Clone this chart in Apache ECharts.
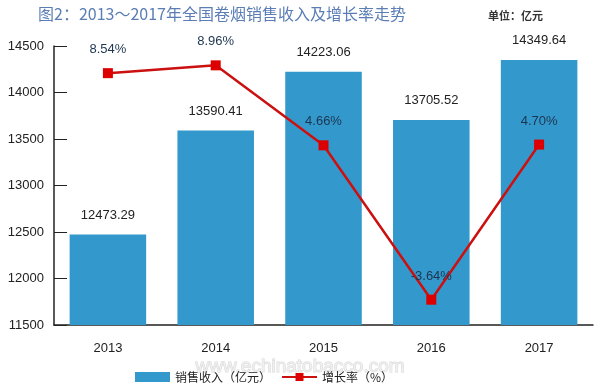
<!DOCTYPE html>
<html><head><meta charset="utf-8">
<script src="https://cdn.jsdelivr.net/npm/echarts@6/dist/echarts.min.js"></script>
<style>html,body{margin:0;padding:0;background:#fff}#c{width:600px;height:388px}</style>
</head><body><div id="c"></div>
<script>
var years = ['2013','2014','2015','2016','2017'];
var revenue = [12473.29, 13590.41, 14223.06, 13705.52, 14349.64];
var growth = [8.54, 8.96, 4.66, -3.64, 4.70];
var yTicks = [11500, 12000, 12500, 13000, 13500, 14000, 14500];

var chart = echarts.init(document.getElementById('c'));
var numFont = 'Liberation Sans, Arial, sans-serif';
var cjkFont = 'Noto Sans CJK SC, sans-serif';
chart.setOption({
  animation: false,
  backgroundColor: '#fff',
  title: [{
    text: '图2：2013～2017年全国卷烟销售收入及增长率走势',
    left: 33, top: 1,
    textStyle: {color: '#5a7db5', fontSize: 16, fontWeight: 'normal', fontFamily: cjkFont}
  }, {
    text: '单位：亿元',
    left: 483, top: 5,
    textStyle: {color: '#333', fontSize: 11, fontWeight: 'bold', fontFamily: cjkFont}
  }],
  graphic: [{
    type: 'text', left: 'center', top: 357,
    style: {text: 'www.echinatobacco.com', fontSize: 19, fontFamily: numFont,
      fill: 'rgba(240,240,240,0.9)', stroke: 'rgba(205,205,205,0.8)', lineWidth: 1}
  }],
  legend: {
    left: 130, top: 366, itemGap: 10,
    itemWidth: 35, itemHeight: 10,
    textStyle: {fontSize: 12, color: '#222', fontFamily: cjkFont},
    data: [{name: '销售收入（亿元）', icon: 'rect'}, {name: '增长率（%）'}]
  },
  grid: {left: 54, right: 7, top: 46, bottom: 63},
  xAxis: {
    type: 'category', data: years,
    axisLine: {onZero: false, lineStyle: {color: '#222', width: 1.5}},
    axisTick: {inside: true, length: 6, lineStyle: {color: '#222'}},
    axisLabel: {color: '#222', fontSize: 13, margin: 17, fontFamily: numFont}
  },
  yAxis: [{
    type: 'value', min: 11500, max: 14500, interval: 500,
    axisLine: {show: true, lineStyle: {color: '#222', width: 1.5}},
    axisTick: {show: true, inside: true, length: 13, lineStyle: {color: '#222'}},
    splitLine: {show: false},
    axisLabel: {color: '#222', fontSize: 13, margin: 10, fontFamily: numFont,
      formatter: function(v){ return yTicks.indexOf(v) >= 0 ? String(v) : ''; }}
  }, {
    type: 'value', min: -5, max: 10, show: false, splitLine: {show: false}
  }],
  series: [{
    name: '销售收入（亿元）', type: 'bar', data: revenue, barWidth: '71%',
    itemStyle: {color: '#3399cc'},
    label: {show: true, position: 'top', distance: 13, color: '#222', fontSize: 13,
      fontFamily: numFont, formatter: function(p){ return p.value.toFixed(2); }}
  }, {
    name: '增长率（%）', type: 'line', yAxisIndex: 1, data: growth,
    symbol: 'rect', symbolSize: 10,
    lineStyle: {color: '#cc1010', width: 2.5},
    itemStyle: {color: '#dd0000'},
    label: {show: true, position: 'top', distance: 12, color: '#1d3550', fontSize: 13,
      fontFamily: numFont, formatter: function(p){ return p.value.toFixed(2) + '%'; }}
  }]
});
</script></body></html>
